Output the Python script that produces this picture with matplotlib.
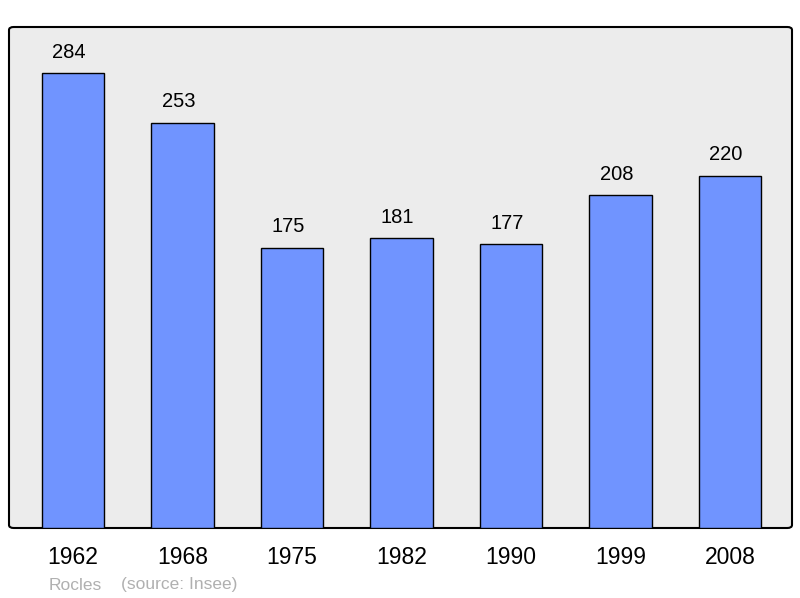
import matplotlib.pyplot as plt
from matplotlib.patches import FancyBboxPatch

plt.rcParams['font.family'] = ['Liberation Sans', 'DejaVu Sans']

years = ['1962', '1968', '1975', '1982', '1990', '1999', '2008']
population = [284, 253, 175, 181, 177, 208, 220]

fig = plt.figure(figsize=(8, 5.98), dpi=100)
# axes box in pixels: x 9..792, y 27..528
ax = fig.add_axes([9 / 800, (598 - 528) / 598, 783 / 800, 501 / 598])
ax.set_facecolor('none')
ax.set_xlim(-0.585, 6.565)
ax.set_ylim(0, 312.7)

# grey background with rounded corners
bg = FancyBboxPatch((0, 0), 1, 1, boxstyle='round,pad=0,rounding_size=0.006',
                    transform=ax.transAxes, facecolor='#ececec',
                    edgecolor='black', linewidth=1.5, zorder=0, clip_on=False)
ax.add_patch(bg)
for s in ax.spines.values():
    s.set_visible(False)

x_pos = range(len(years))
ax.bar(x_pos, population, width=0.57, color='#7094ff', edgecolor='black',
       linewidth=1.0, zorder=2)
for x, v in zip(x_pos, population):
    ax.text(x - 0.037, v + 7, str(v), ha='center', va='bottom', fontsize=14.5)

ax.set_xticks(list(x_pos))
ax.set_xticklabels(years, fontsize=16.5)
ax.tick_params(axis='x', length=0, pad=13)
ax.set_yticks([])

fig.text(49 / 800, 1 - 585 / 598, 'Rocles', color='#b0b0b0', fontsize=12.5,
         va='center', ha='left')
fig.text(121 / 800, 1 - 585 / 598, '(source: Insee)', color='#b0b0b0',
         fontsize=12.5, va='center', ha='left')

fig.savefig('out.png', dpi=100)
